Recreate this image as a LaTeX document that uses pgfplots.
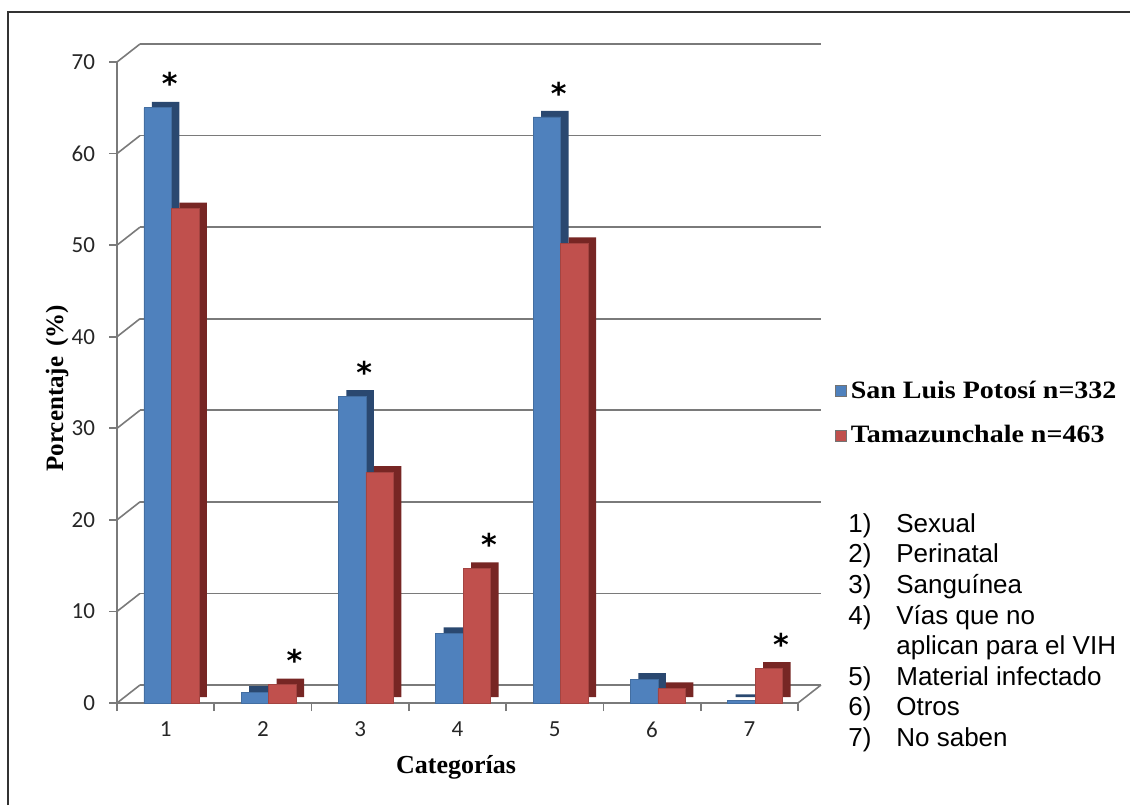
\documentclass[border=0pt]{standalone}
\usepackage{pgfplots}
\pgfplotsset{compat=1.18}
\usepackage{fontspec}
\setmainfont{Liberation Serif}
\newfontfamily\carlito{Carlito}
\newfontfamily\arialf{Liberation Sans}
\newfontfamily\dejavu{DejaVu Sans}
\newfontfamily\legfont[FakeStretch=1.12]{Liberation Serif}
\definecolor{blueF}{HTML}{4F81BD}
\definecolor{blueS}{HTML}{2A4870}
\definecolor{redF}{HTML}{C0504D}
\definecolor{redS}{HTML}{772624}
\definecolor{gridc}{HTML}{7A7A7A}
\begin{document}
\begin{tikzpicture}
\path[use as bounding box] (0,0) rectangle (565pt,402.5pt);
\draw[black!80, line width=1pt] (4pt,0) -- (4pt,396.5pt) -- (565pt,396.5pt);
\begin{axis}[
  at={(58.5pt,51pt)}, anchor=south west,
  scale only axis, width=340.5pt, height=320.5pt,
  xmin=0.5, xmax=7.5, ymin=0, ymax=70,
  ybar, bar width=13.75pt,
  axis x line*=bottom, axis y line*=left,
  axis line style={draw=gridc, line width=1pt},
  xtick={1,...,7}, major x tick style={draw=none},
  minor xtick={0.5,1.5,...,7.5},
  ytick={0,10,...,70},
  tick align=outside, major tick length=4pt, minor tick length=4pt,
  every tick/.style={draw=gridc, line width=0.8pt},
  ymajorgrids, grid style={draw=gridc, line width=0.8pt, xshift=11.5pt, yshift=9pt},
  clip=false,
  /pgf/number format/assume math mode=true,
  ticklabel style={font=\carlito\fontsize{11.5}{13}\selectfont, text=black!85},
  yticklabel style={xshift=-3.5pt},
  xticklabel style={yshift=-2pt},
  every axis y label/.style={at={(axis description cs:-0.088,0.491)}, rotate=90, anchor=center},
  every axis x label/.style={at={(axis description cs:0.498,-0.101)}, anchor=center},
  ylabel={\bfseries\fontsize{12.5}{15}\selectfont Porcentaje\hspace{0.4em}(\%)},
  xlabel={\bfseries\fontsize{13}{15}\selectfont Categorías},
  legend style={at={(axis description cs:1.054,0.452)}, anchor=west, draw=none, fill=none,
    font=\legfont\bfseries\fontsize{12.5}{14}\selectfont, row sep=8pt, inner sep=0pt,
    nodes={inner xsep=2pt}},
  legend cell align=left,
  legend image code/.code={\draw[#1, draw=black!55, line width=0.3pt] (0pt,-2.75pt) rectangle (5.5pt,2.75pt);},
  nodes near coords style={font=\dejavu\bfseries\fontsize{15}{15}\selectfont, anchor=center, yshift=12pt, xshift=6pt},
]
% blue depth
\addplot[ybar, bar shift=-4pt, fill=blueS, draw=none, xshift=4pt, yshift=3pt, forget plot]
  coordinates {(1,65.0) (2,1.2) (3,33.5) (4,7.6) (5,64.0) (6,2.6) (7,0.3)};
% blue front
\addplot[ybar, bar shift=-4pt, fill=blueF, draw=blueF!85!black, line width=0.3pt,
  point meta=explicit symbolic, nodes near coords]
  coordinates {(1,65.0)[*] (2,1.2)[] (3,33.5)[*] (4,7.6)[] (5,64.0)[*] (6,2.6)[] (7,0.3)[]};
\addlegendentry{San Luis Potosí n=332}
% red depth
\addplot[ybar, bar shift=9.75pt, fill=redS, draw=none, xshift=4pt, yshift=3pt, forget plot]
  coordinates {(1,54.0) (2,2.0) (3,25.2) (4,14.7) (5,50.2) (6,1.6) (7,3.8)};
% red front
\addplot[ybar, bar shift=9.75pt, fill=redF, draw=redF!85!black, line width=0.3pt,
  point meta=explicit symbolic, nodes near coords]
  coordinates {(1,54.0)[] (2,2.0)[*] (3,25.2)[] (4,14.7)[*] (5,50.2)[] (6,1.6)[] (7,3.8)[*]};
\addlegendentry{Tamazunchale n=463}
% wall slants
\pgfplotsinvokeforeach{0,10,...,70}{
  \draw[gridc, line width=0.8pt] (axis cs:0.5,#1) -- ++(11.5pt,9pt);
}
\draw[gridc, line width=0.8pt] (axis cs:7.5,0) -- ++(11.5pt,9pt);
\end{axis}
\node[anchor=north west, inner sep=0pt, align=left, font=\arialf\fontsize{13}{15.3}\selectfont]
  at (424pt,146pt) {%
  \makebox[24pt][l]{1)}Sexual\\
  \makebox[24pt][l]{2)}Perinatal\\
  \makebox[24pt][l]{3)}Sanguínea\\
  \makebox[24pt][l]{4)}Vías que no\\
  \makebox[24pt][l]{}aplican para el VIH\\
  \makebox[24pt][l]{5)}Material infectado\\
  \makebox[24pt][l]{6)}Otros\\
  \makebox[24pt][l]{7)}No saben};
\end{tikzpicture}
\end{document}
